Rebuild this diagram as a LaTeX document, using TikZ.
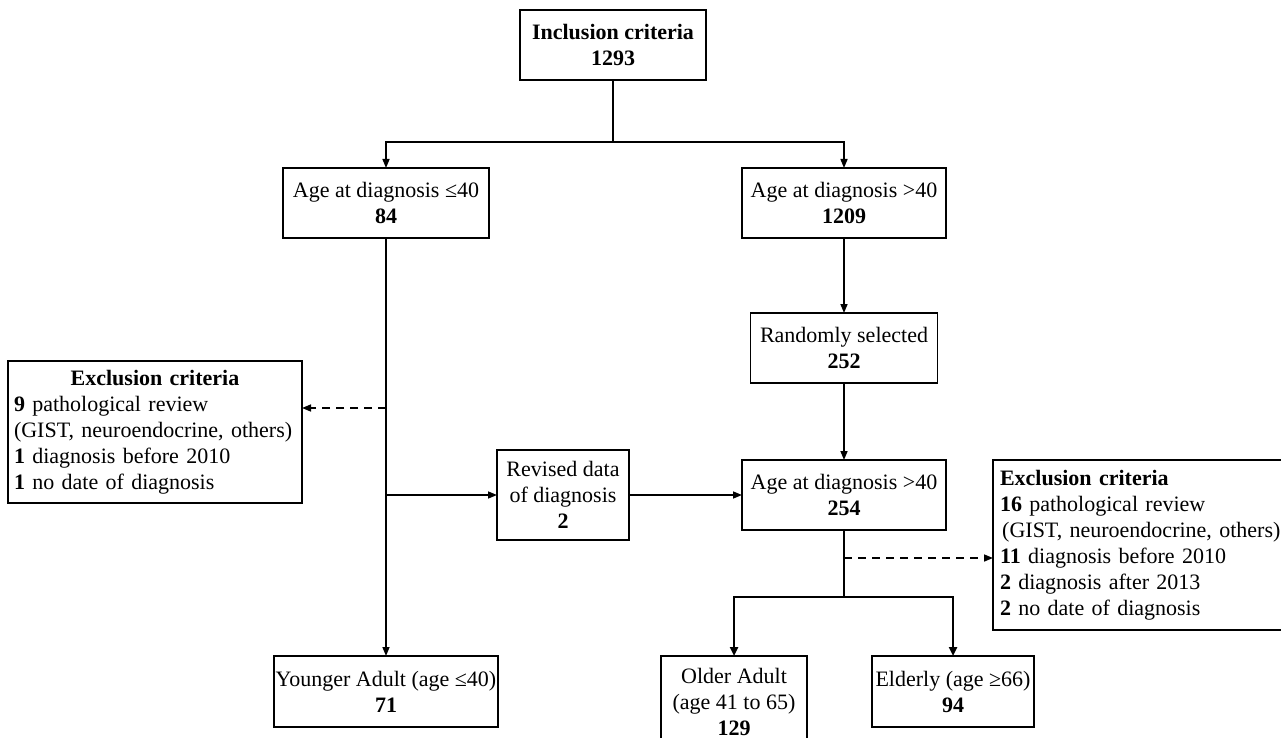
\documentclass[tikz,border=0pt]{standalone}
\usepackage{fontspec}
\setmainfont{Liberation Serif}
\usetikzlibrary{arrows.meta}
\newcommand\mysz{\fontsize{22}{26}\selectfont}
\begin{document}
\begin{tikzpicture}[x=1pt,y=-1pt,
  box/.style={draw,line width=1.7pt,align=center,inner sep=0pt,outer sep=0pt,font=\mysz},
  conn/.style={line width=1.5pt},
  arr/.style={conn,-{Triangle[length=9pt,width=7pt]}},
  darr/.style={arr,dash pattern=on 8pt off 6pt},
  tarr/.style={line width=2.8pt,-{Triangle[length=9pt,width=8pt]}}]
\useasboundingbox (0,0) rectangle (1281,738);
\clip (0,0) rectangle (1281,738);
% boxes (positioned by centre, with sizes)
\node[box,minimum width=186pt,minimum height=70pt] (incl) at (613,45) {\textbf{Inclusion criteria}\\\textbf{1293}};
\node[box,minimum width=206pt,minimum height=70pt] (age1) at (386,203) {Age at diagnosis ≤40\\\textbf{84}};
\node[box,minimum width=204pt,minimum height=70pt] (age2) at (844,203) {Age at diagnosis >40\\\textbf{1209}};
\node[box,minimum width=187pt,minimum height=70pt] (rand) at (844,348) {Randomly selected\\\textbf{252}};
\node[box,minimum width=132pt,minimum height=90pt] (rev) at (563,495) {Revised data\\of diagnosis\\\textbf{2}};
\node[box,minimum width=204pt,minimum height=70pt] (age3) at (844,495) {Age at diagnosis >40\\\textbf{254}};
\node[box,minimum width=294pt,minimum height=142pt,text width=282pt,align=left] (exL) at (155,432)
  {\makebox[\linewidth][c]{\textbf{Exclusion criteria}}\\
   \textbf{9} pathological review\\
   (GIST, neuroendocrine, others)\\
   \textbf{1} diagnosis before 2010\\
   \textbf{1} no date of diagnosis};
\node[box,minimum width=302pt,minimum height=170pt,text width=288pt,align=left] (exR) at (1144,545)
  {\textbf{Exclusion criteria}\\
   \textbf{16} pathological review\\
   \mbox{\hspace{0.1em}(GIST, neuroendocrine, others)}\\
   \textbf{11} diagnosis before 2010\\
   \textbf{2} diagnosis after 2013\\
   \textbf{2} no date of diagnosis};
\node[box,minimum width=224pt,minimum height=71pt] (young) at (386,691.5) {Younger Adult (age ≤40)\\\textbf{71}};
\node[box,minimum width=146pt,minimum height=92pt] (older) at (734,702) {Older Adult\\(age 41 to 65)\\\textbf{129}};
\node[box,minimum width=162pt,minimum height=71pt] (elder) at (953,691.5) {Elderly (age ≥66)\\\textbf{94}};
% junction points
\coordinate (s1) at (613,142);
\coordinate (c1) at (386,408);
\coordinate (c2) at (386,495);
\coordinate (c3) at (844,558);
\coordinate (s2) at (844,597);
% connectors
\draw[conn] (incl.south) -- (s1);
\draw[arr] (s1) -| (age1.north);
\draw[arr] (s1) -| (age2.north);
\draw[arr] (age2.south) -- (rand.north);
\draw[arr] (rand.south) -- (age3.north);
\draw[arr] (age1.south) -- (young.north);
\draw[darr] (c1) -- (c1 -| exL.east);
\draw[arr] (c2) -- (rev.west);
\draw[arr] (rev.east) -- (age3.west);
\draw[conn] (age3.south) -- (s2);
\draw[darr] (c3) -- (c3 -| exR.west);
\draw[tarr] (s2) -| (older.north);
\draw[tarr] (s2) -| (elder.north);
\end{tikzpicture}
\end{document}
